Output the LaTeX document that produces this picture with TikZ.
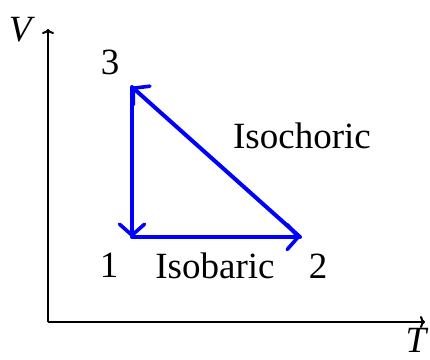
\documentclass[tikz,border=0pt]{standalone}
\usepackage{fontspec}
\setmainfont{Liberation Serif}
\usetikzlibrary{arrows.meta,positioning}
\tikzset{
  axisline/.style={line width=2pt, black, -{To[length=5pt,width=12pt]}},
  cycleline/.style={line width=4pt, blue, line cap=round,
    -{Straight Barb[length=11pt,width=25pt,line width=3.6pt,round]}},
  lbl/.style={inner sep=0pt, font=\fontsize{37}{40}\selectfont},
}
\begin{document}
\begin{tikzpicture}[x=1pt, y=1pt]
  \useasboundingbox (0,0) rectangle (430,359);
  % axes
  \coordinate (O) at (48,37);
  \coordinate (Vtip) at (48,330);
  \coordinate (Ttip) at (425,37);
  \draw[axisline] (O) -- (Vtip);
  \draw[axisline] (O) -- (Ttip);
  \node[lbl] (Vlab) at (22,329) {\textit{V}};
  \node[lbl] (Tlab) at (417,19) {\textit{T}};
  % states
  \coordinate (p1) at (132,122);
  \coordinate (p2) at (300,122);
  \coordinate (p3) at (132,272);
  \draw[cycleline] (p1) -- (p2);
  \draw[cycleline] (p2) -- (p3);
  \draw[cycleline] (p3) -- (p1);
  \node[lbl] (n1) at (109,94) {1};
  \node[lbl] (n2) at (318,93) {2};
  \node[lbl] (n3) at (110,297) {3};
  \node[lbl] (isob) at (215,93) {Isobaric};
  \node[lbl] (isoc) at (302,223) {Isochoric};
\end{tikzpicture}
\end{document}
